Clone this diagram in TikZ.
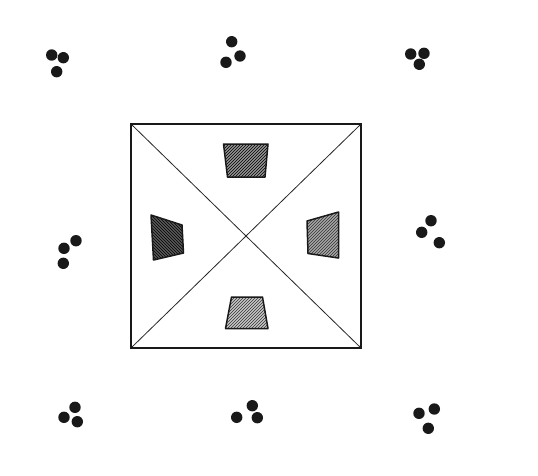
\documentclass[tikz,border=0pt]{standalone}
\usetikzlibrary{patterns}
\begin{document}
\begin{tikzpicture}[x=1pt,y=-1pt,
  dotmark/.style={fill=black!90, draw=none},
  frame/.style={draw=black!90, line width=2.8pt},
  diag/.style={draw=black!85, line width=0.8pt},
  trap/.style={draw=black!90, line width=1.5pt, line join=round}]
\useasboundingbox[fill=white] (0,0) rectangle (538,475);
% dot clusters
\foreach \p in {(51.7,55),(63.3,57.7),(56.7,71.7),
                (231.7,41.7),(240,56),(226,62.3),
                (410.7,54),(424,53.3),(419.3,64.3),
                (76,240.7),(64,248.3),(63.3,263.3),
                (431,220.7),(421.7,232.3),(439.3,242.7),
                (75,407.3),(64,417.3),(77.3,421.7),
                (252.3,405.7),(236.7,417.3),(257.3,417.7),
                (419,413.3),(434.3,409),(428.3,428.3)}
  \fill[dotmark] \p circle (5.7);
% square
\coordinate (tl) at (131,124);
\coordinate (tr) at (361,124);
\coordinate (br) at (361,348);
\coordinate (bl) at (131,348);
\draw[diag] (tl) -- (br);
\draw[diag] (tr) -- (bl);
\draw[frame] (tl) -- (tr) -- (br) -- (bl) -- cycle;
% trapezoids
\fill[black!42] (223.5,144) -- (268,144) -- (265,177) -- (227.5,177) -- cycle;
\fill[pattern=north east lines, pattern color=black] (223.5,144) -- (268,144) -- (265,177) -- (227.5,177) -- cycle;
\draw[trap] (223.5,144) -- (268,144) -- (265,177) -- (227.5,177) -- cycle;

\fill[black!65] (151,215) -- (182,225) -- (183.5,253) -- (153.5,260) -- cycle;
\fill[pattern=north west lines, pattern color=black] (151,215) -- (182,225) -- (183.5,253) -- (153.5,260) -- cycle;
\draw[trap] (151,215) -- (182,225) -- (183.5,253) -- (153.5,260) -- cycle;

\fill[black!35] (307,221) -- (338.5,212) -- (338.5,258) -- (308,253.5) -- cycle;
\fill[pattern=north east lines, pattern color=black!80] (307,221) -- (338.5,212) -- (338.5,258) -- (308,253.5) -- cycle;
\draw[trap] (307,221) -- (338.5,212) -- (338.5,258) -- (308,253.5) -- cycle;

\fill[black!22] (231.5,297) -- (262.5,297) -- (268,328.5) -- (225.5,328.5) -- cycle;
\fill[pattern=north east lines, pattern color=black!80] (231.5,297) -- (262.5,297) -- (268,328.5) -- (225.5,328.5) -- cycle;
\draw[trap] (231.5,297) -- (262.5,297) -- (268,328.5) -- (225.5,328.5) -- cycle;
\end{tikzpicture}
\end{document}
